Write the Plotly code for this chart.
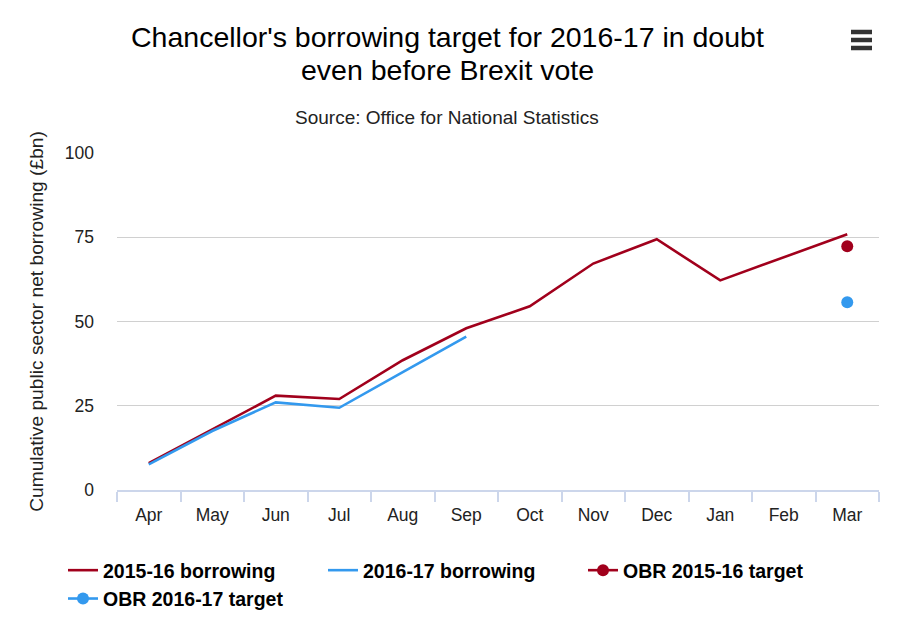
import plotly.graph_objects as go

# months of the financial year
months = ['Apr', 'May', 'Jun', 'Jul', 'Aug', 'Sep', 'Oct', 'Nov', 'Dec', 'Jan', 'Feb', 'Mar']

# cumulative borrowing, £bn
borrowing_2015_16 = [8.0, 18.0, 28.0, 27.0, 38.5, 48.0, 54.5, 67.2, 74.4, 62.2, 69.0, 75.9]
borrowing_2016_17 = [7.6, 17.5, 26.0, 24.4, 35.0, 45.5]

# OBR targets (shown at Mar)
obr_month = ['Mar']
obr_2015_16 = [72.3]
obr_2016_17 = [55.7]

red = '#a1001c'
blue = '#3399ee'

fig = go.Figure()

fig.add_trace(go.Scatter(
    x=months, y=borrowing_2015_16, name='2015-16 borrowing',
    mode='lines', line=dict(color=red, width=2.6)
))
fig.add_trace(go.Scatter(
    x=months[:len(borrowing_2016_17)], y=borrowing_2016_17, name='2016-17 borrowing',
    mode='lines', line=dict(color=blue, width=2.6)
))
fig.add_trace(go.Scatter(
    x=obr_month, y=obr_2015_16, name='OBR 2015-16 target',
    mode='lines+markers', line=dict(color=red, width=2.6),
    marker=dict(color=red, size=12)
))
fig.add_trace(go.Scatter(
    x=obr_month, y=obr_2016_17, name='OBR 2016-17 target',
    mode='lines+markers', line=dict(color=blue, width=2.6),
    marker=dict(color=blue, size=12)
))

# helpers to place page items by pixel, relative to the plot area (117..879, 153..490)
def px(x):
    return (x - 117) / 762

def py(y):
    return (490 - y) / 337

# hamburger menu icon
menu_shapes = [
    dict(type='line', xref='paper', yref='paper', x0=px(851), x1=px(872), y0=py(yy), y1=py(yy),
         line=dict(color='#333333', width=4.5))
    for yy in (32, 40, 48)
]

fig.update_layout(
    width=909, height=641,
    # page is drawn 8px in from the top-left, so shift margins to compensate
    margin=dict(l=109, r=38, t=145, b=159),
    paper_bgcolor='white', plot_bgcolor='white',
    font=dict(family='Liberation Sans, Arial, sans-serif', color='#000000'),
    showlegend=True,
    legend=dict(
        orientation='h', x=px(63), xanchor='left', y=-0.181, yanchor='top',
        font=dict(size=19.5, color='#000000', weight='bold'),
        entrywidth=215, entrywidthmode='pixels',
        tracegroupgap=0, itemwidth=30
    ),
    xaxis=dict(
        type='category', categoryorder='array', categoryarray=months,
        range=[-0.5, 11.5],
        showgrid=False, showline=True, linecolor='#ccd6eb', linewidth=1.5,
        ticks='outside', tickson='boundaries', ticklen=10, tickcolor='#ccd6eb', tickwidth=1.5,
        tickfont=dict(size=17.5, color='#222222'), zeroline=False, ticklabelstandoff=8
    ),
    yaxis=dict(
        range=[0, 100], tickvals=[0, 25, 50, 75, 100],
        showgrid=True, gridcolor='#d0d0d0', gridwidth=1.2, zeroline=False,
        ticks='', tickfont=dict(size=17.5, color='#222222'), ticklabelstandoff=22,
        title=dict(text='Cumulative public sector net borrowing (£bn)',
                   font=dict(size=19.2, color='#222222'), standoff=16)
    ),
    shapes=menu_shapes,
    annotations=[
        dict(text="Chancellor's borrowing target for 2016-17 in doubt", xref='paper', yref='paper',
             x=px(447), y=py(37), xanchor='center', yanchor='middle',
             showarrow=False, font=dict(size=28.5, color='#000000')),
        dict(text='even before Brexit vote', xref='paper', yref='paper',
             x=px(447), y=py(70), xanchor='center', yanchor='middle',
             showarrow=False, font=dict(size=28.5, color='#000000')),
        dict(text='Source: Office for National Statistics', xref='paper', yref='paper',
             x=px(447), y=py(117), xanchor='center', yanchor='middle',
             showarrow=False, font=dict(size=19, color='#222222')),
    ]
)

fig.write_html("out.html")
